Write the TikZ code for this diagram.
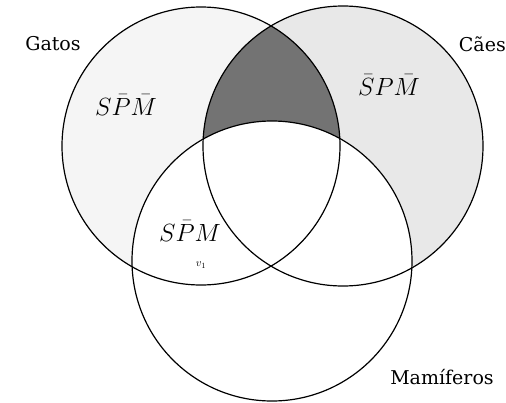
\documentclass[tikz,border=0pt]{standalone}
\usepackage{fontspec}
\setmainfont{DejaVu Serif}
\begin{document}
\begin{tikzpicture}[x=1pt,y=-1pt,
  setcircle/.style={circle, draw, line width=1.2pt, inner sep=0pt, outer sep=0pt, minimum size=#1},
  setlabel/.style={font=\fontsize{19}{22}\selectfont, inner sep=0pt},
  hand/.style={font=\fontsize{27}{29}\selectfont, inner sep=0pt}]
\useasboundingbox (0,0) rectangle (506,402);
% light stipple of Caes-only region
\begin{scope}
  \clip (343,146) circle (140);
  \fill[black!9] (343,146) circle (140);
  \fill[white] (201,146) circle (139);
  \fill[white] (272,261) circle (140);
\end{scope}
% light stipple of Gatos-only region
\begin{scope}
  \clip (201,146) circle (139);
  \fill[black!4] (201,146) circle (139);
  \fill[white] (343,146) circle (140);
  \fill[white] (272,261) circle (140);
\end{scope}
% dark shading: Gatos and Caes, not Mamiferos
\begin{scope}
  \clip (201,146) circle (139);
  \clip (343,146) circle (140);
  \fill[black!55] (343,146) circle (140);
  \fill[white] (272,261) circle (140);
\end{scope}
\node[setcircle=278pt] (G) at (201,146) {};
\node[setcircle=280pt] (C) at (343,146) {};
\node[setcircle=280pt] (M) at (272,261) {};
\node[setlabel] (gatos) at (53,44) {Gatos};
\node[setlabel, anchor=east] (caes) at (506,44) {Cães};
\node[setlabel] (mam) at (442,377) {Mamíferos};
\node[hand] (l1) at (126,105) {$S\bar{P}\bar{M}$};
\node[hand] (l2) at (389,85) {$\bar{S}P\bar{M}$};
\node[hand] (l3) at (190,231) {$S\bar{P}M$};
\node[font=\fontsize{11}{12}\selectfont, inner sep=0pt] (v1) at (201,265) {$v_1$};
\end{tikzpicture}
\end{document}
